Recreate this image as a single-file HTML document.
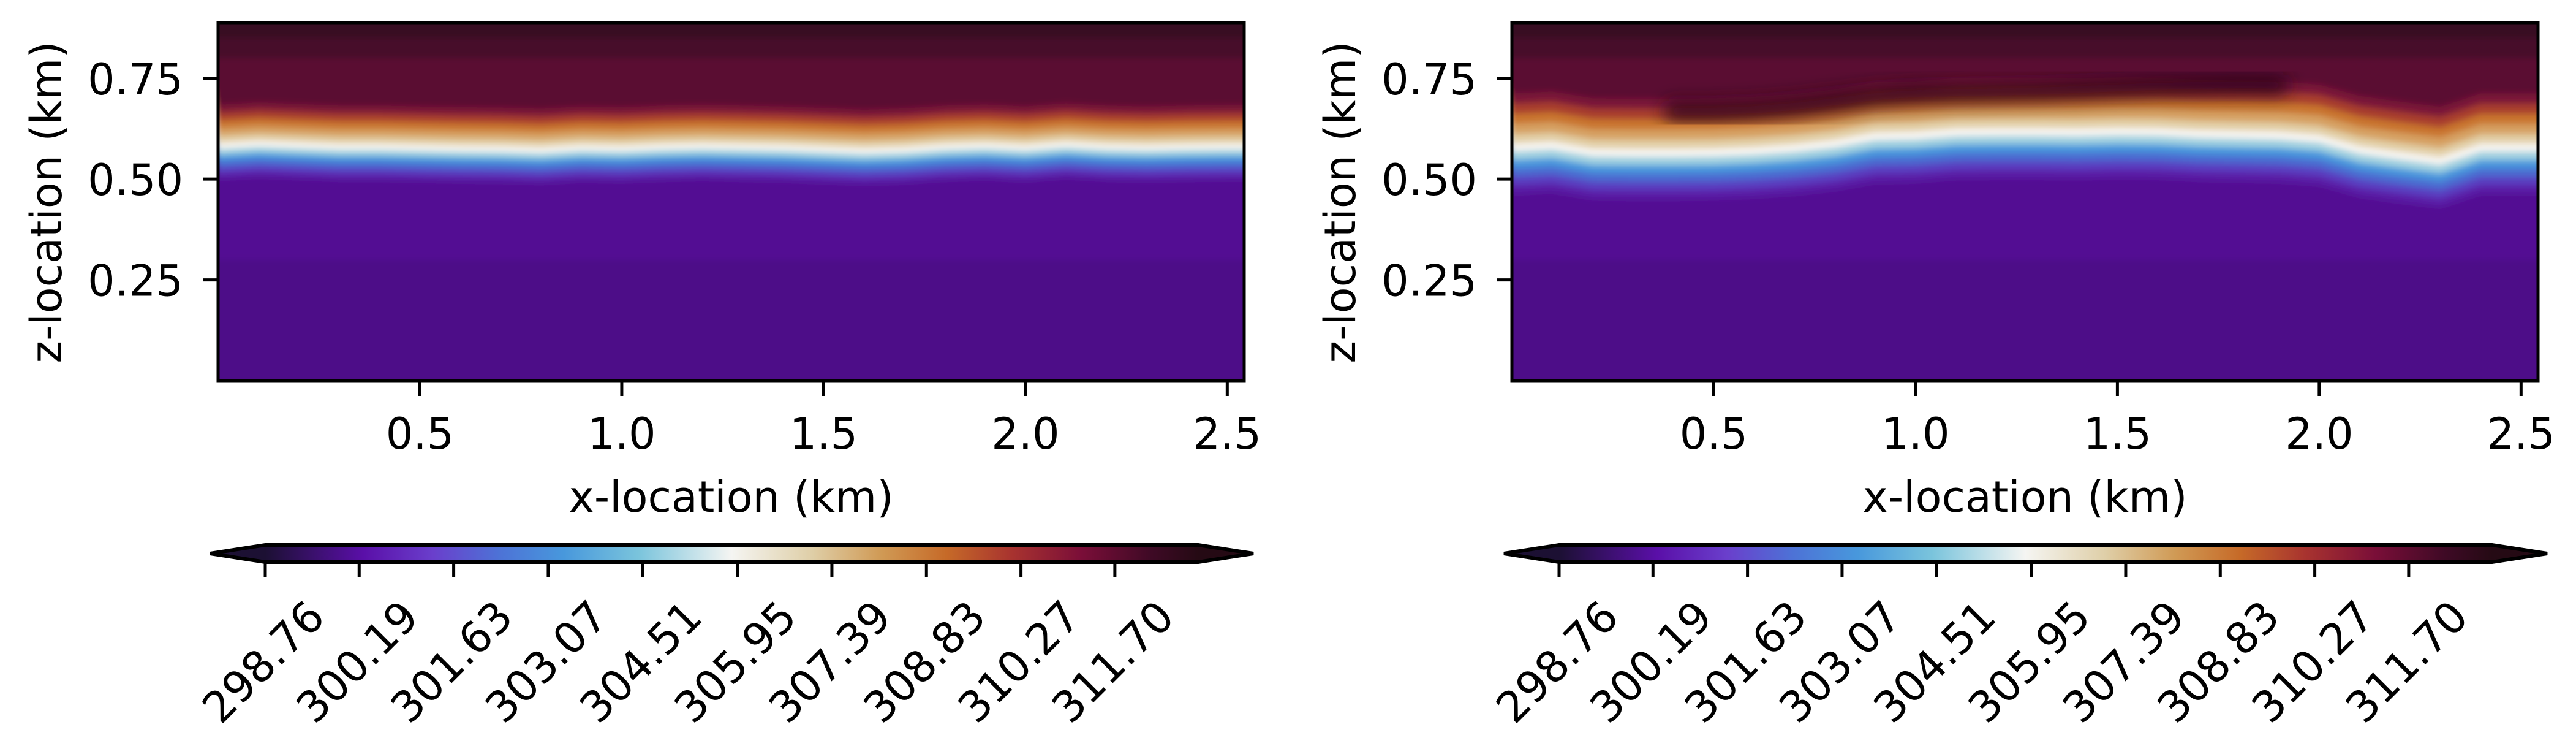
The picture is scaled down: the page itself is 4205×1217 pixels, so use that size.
<!DOCTYPE html>
<html><head><meta charset="utf-8">
<style>
html,body{margin:0;padding:0;background:#fff;}
svg{display:block;font-family:"DejaVu Sans","Liberation Sans",sans-serif;}
</style></head>
<body>
<svg id="fig" xmlns="http://www.w3.org/2000/svg" width="4205" height="1217" viewBox="0 0 4205 1217">
<defs>
<linearGradient id="cmap" x1="0" y1="0" x2="1" y2="0">
<stop offset="0" stop-color="#1c1033"/><stop offset="0.105" stop-color="#5a0fa8"/>
<stop offset="0.18" stop-color="#6a3fcc"/><stop offset="0.25" stop-color="#4d72d6"/>
<stop offset="0.32" stop-color="#4898dc"/><stop offset="0.4" stop-color="#7ac4dc"/>
<stop offset="0.5" stop-color="#f5f5f2"/><stop offset="0.585" stop-color="#dfcfa8"/>
<stop offset="0.66" stop-color="#d09a55"/><stop offset="0.73" stop-color="#c66a28"/>
<stop offset="0.8" stop-color="#a8332f"/><stop offset="0.875" stop-color="#7a0e38"/>
<stop offset="0.95" stop-color="#3e0a25"/><stop offset="1" stop-color="#250a14"/>
</linearGradient>
<filter id="blur" x="-5%" y="-5%" width="110%" height="110%"><feGaussianBlur stdDeviation="5"/></filter>
<filter id="blur2" x="-10%" y="-50%" width="120%" height="200%"><feGaussianBlur stdDeviation="14"/></filter>
</defs>
</svg>
<script>
// ---- data ----
const xKm = [0,0.1,0.2,0.3,0.4,0.5,0.6,0.7,0.8,0.9,1.0,1.1,1.2,1.3,1.4,1.5,1.6,1.7,1.8,1.9,2.0,2.1,2.2,2.3,2.4,2.5];
const interfaceLeft = [0.574,0.580,0.576,0.572,0.572,0.570,0.568,0.567,0.564,0.570,0.568,0.572,0.574,0.572,0.570,0.566,0.562,0.565,0.572,0.575,0.570,0.578,0.572,0.570,0.572,0.573];
const interfaceRight = [0.568,0.573,0.556,0.555,0.555,0.556,0.560,0.567,0.578,0.596,0.598,0.606,0.607,0.607,0.606,0.608,0.607,0.602,0.600,0.598,0.590,0.562,0.548,0.535,0.568,0.568];
const streakX = [0.4,0.5,0.6,0.7,0.8,0.9,1.0,1.1,1.2,1.3,1.4,1.5,1.6,1.7,1.8,1.9];
const streakZ = [0.668,0.668,0.672,0.680,0.692,0.705,0.712,0.714,0.716,0.718,0.722,0.726,0.730,0.732,0.734,0.733];
const bandOffsets = [-0.075,-0.06,-0.045,-0.03,-0.015,0,0.012,0.025,0.04,0.055,0.07,0.085];
const bandColors = ["#5a1aa6","#5a3dc0","#4c6ad0","#4896dc","#9fd0e0","#f6f4f0","#e2cfa6","#d6a062","#c9742e","#a83c2e","#7a1238","#5a0830"];
const xTicks = [0.5,1.0,1.5,2.0,2.5];
const xTickLabels = ["0.5","1.0","1.5","2.0","2.5"];
const yTicks = [0.25,0.5,0.75];
const yTickLabels = ["0.25","0.50","0.75"];
const cbarTickLabels = ["298.76","300.19","301.63","303.07","304.51","305.95","307.39","308.83","310.27","311.70"];
const cbarMin = 298.76, cbarMax = 312.97;
const xMax = 2.542, zMax = 0.888;

const NS = "http://www.w3.org/2000/svg";
const svg = document.getElementById('fig');
function mk(tag, attrs, parent){const e=document.createElementNS(NS,tag);for(const k in attrs)e.setAttribute(k,attrs[k]);(parent||svg).appendChild(e);return e;}

function panel(idx, x0, iface, warmScale, coolScale, streak){
  const L=x0, R=x0+1675, T=37, B=621;
  const sx = v => L + v/xMax*(R-L);
  const sy = v => B - v/zMax*(B-T);
  const g = mk('g',{});
  
  
  const cid='clip'+idx;
  const cp=mk('clipPath',{id:cid},g); mk('rect',{x:L,y:T,width:R-L,height:B-T},cp);
  const hm=mk('g',{'clip-path':'url(#'+cid+')'},g);
  
  
  const inner=mk('g',{filter:'url(#blur)'},hm);
  mk('rect',{x:L-30,y:T-30,width:R-L+60,height:B-T+60,fill:'#520c93'},inner);
  mk('rect',{x:L-30,y:sy(0.3),width:R-L+60,height:sy(0)-sy(0.3)+30,fill:'#4e0d88'},inner);
  bandOffsets.forEach((off,bi)=>{
    const s = off<0?coolScale:warmScale;
    let d='M'+(L-30)+','+(T-30);
    xKm.forEach((x,i)=>{d+=' L'+sx(x).toFixed(1)+','+sy(iface[i]+off*s).toFixed(1);});
    d+=' L'+(R+30)+','+sy(iface[iface.length-1]+off*s).toFixed(1)+' L'+(R+30)+','+(T-30)+'Z';
    const p=mk('path',{d:d,fill:bandColors[bi]},inner);
    
    
  });
  mk('rect',{x:L-30,y:T-30,width:R-L+60,height:sy(0.80)-T+30,fill:'#470a2b'},inner);
  mk('rect',{x:L-30,y:T-30,width:R-L+60,height:sy(0.85)-T+30,fill:'#380920'},inner);
  if(streak){
    let d='';
    streakX.forEach((x,i)=>{d+=(i?' L':'M')+sx(x).toFixed(1)+','+sy(streakZ[i]).toFixed(1);});
    const sp=mk('path',{d:d,fill:'none',stroke:'#2a0615','stroke-width':34,'stroke-linecap':'round','stroke-opacity':0.85,filter:'url(#blur2)'},hm);
    
    
  }
  const fr=mk('rect',{x:L,y:T,width:R-L,height:B-T,fill:'none',stroke:'#000','stroke-width':5},g);
  
  
  xTicks.forEach((t,i)=>{
    mk('line',{x1:sx(t),x2:sx(t),y1:B,y2:B+25,stroke:'#000','stroke-width':5},g);
    const tx=mk('text',{x:sx(t),y:732,'font-size':70,'text-anchor':'middle'},g);
    tx.textContent=xTickLabels[i];
    
    
  });
  yTicks.forEach((t,i)=>{
    mk('line',{x1:L-25,x2:L,y1:sy(t),y2:sy(t),stroke:'#000','stroke-width':5},g);
    const tx=mk('text',{x:L-57,y:sy(t)+26,'font-size':70,'text-anchor':'end'},g);
    tx.textContent=yTickLabels[i];
    
    
  });
  const xl=mk('text',{x:(L+R)/2,y:835,'font-size':70,'text-anchor':'middle'},g);
  xl.textContent='x-location (km)';
  
  
  const yl=mk('text',{x:0,y:0,'font-size':70,'text-anchor':'middle',transform:'translate('+(L-256)+',330) rotate(-90)'},g);
  yl.textContent='z-location (km)';
  
  
  // colorbar
  const cL=x0+77, cR=x0+1600, cT=889, cB=917, tipL=x0-13, tipR=x0+1690;
  const cb=mk('g',{},g);
  
  
  mk('polygon',{points:`${tipL},${(cT+cB)/2} ${cL},${cT} ${cR},${cT} ${tipR},${(cT+cB)/2} ${cR},${cB} ${cL},${cB}`,fill:'#1c1033'},cb);
  mk('polygon',{points:`${cR},${cT} ${tipR},${(cT+cB)/2} ${cR},${cB}`,fill:'#250a14'},cb);
  mk('rect',{x:cL,y:cT,width:cR-cL,height:cB-cT,fill:'url(#cmap)'},cb);
  mk('polygon',{points:`${tipL},${(cT+cB)/2} ${cL},${cT} ${cR},${cT} ${tipR},${(cT+cB)/2} ${cR},${cB} ${cL},${cB}`,fill:'none',stroke:'#000','stroke-width':6,'stroke-linejoin':'miter'},cb);
  const cx = v => cL + (v-cbarMin)/(cbarMax-cbarMin)*(cR-cL);
  cbarTickLabels.forEach(lbl=>{
    const px=cx(parseFloat(lbl));
    mk('line',{x1:px,x2:px,y1:cB,y2:941,stroke:'#000','stroke-width':5},cb);
    const tx=mk('text',{x:0,y:0,'font-size':70,'text-anchor':'middle','dominant-baseline':'central',transform:`translate(${px-3},1080) rotate(-45)`},cb);
    tx.textContent=lbl;
    
    
  });
}
panel('left',356,interfaceLeft,1.3,1.0,false);
panel('right',2468,interfaceRight,1.7,1.4,true);
</script>
</body></html>
